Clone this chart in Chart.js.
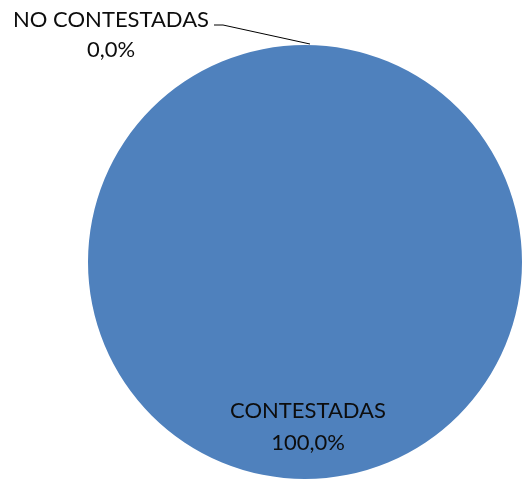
<!DOCTYPE html>
<html>
<head>
<meta charset="utf-8">
<script src="https://cdn.jsdelivr.net/npm/chart.js@4"></script>
<style>
html,body{margin:0;padding:0;background:#fff;}
#wrap{width:522px;height:481px;position:relative;}
</style>
</head>
<body>
<div id="wrap"><canvas id="c" width="522" height="481"></canvas></div>
<script>
const categories = ['CONTESTADAS', 'NO CONTESTADAS'];
const values = [100, 0];
const percentLabels = ['100,0%', '0,0%'];
const colors = ['#4F81BD', '#C0504D'];

const FONT = '22px Lato, "Liberation Sans", Arial, sans-serif';

const labelPlugin = {
  id: 'pieLabels',
  afterDatasetsDraw(chart) {
    const ctx = chart.ctx;
    const meta = chart.getDatasetMeta(0);
    ctx.save();
    ctx.font = FONT;
    ctx.fillStyle = '#0d0d0d';
    ctx.textBaseline = 'middle';
    ctx.textAlign = 'center';
    meta.data.forEach((arc, i) => {
      const p = arc.getProps(['x','y','startAngle','endAngle','outerRadius'], true);
      const mid = (p.startAngle + p.endAngle) / 2;
      if (values[i] > 0) {
        const r = p.outerRadius * 0.76;
        const lx = p.x + Math.cos(mid) * r + 3;
        const ly = p.y + Math.sin(mid) * r;
        ctx.fillText(categories[i], lx, ly - 16);
        ctx.fillText(percentLabels[i], lx, ly + 16);
      } else {
        const ax = p.x + Math.cos(mid) * p.outerRadius;
        const ay = p.y + Math.sin(mid) * p.outerRadius;
        const ex = ax - 82, ey = ay - 20;
        ctx.strokeStyle = '#000';
        ctx.lineWidth = 1;
        ctx.beginPath();
        ctx.moveTo(ax + 5, ay - 1);
        ctx.lineTo(ex, ey);
        ctx.lineTo(ex - 9, ey);
        ctx.stroke();
        const tw = ctx.measureText(categories[i]).width;
        const cx = ex - 14 - tw / 2;
        ctx.fillText(categories[i], cx, ey - 5);
        ctx.fillText(percentLabels[i], cx, ey + 25);
      }
    });
    ctx.restore();
  }
};

new Chart(document.getElementById('c'), {
  type: 'pie',
  data: {
    labels: categories,
    datasets: [{
      data: values,
      backgroundColor: colors,
      borderWidth: 0
    }]
  },
  options: {
    responsive: false,
    animation: false,
    layout: { padding: { left: 88, right: 0, top: 43, bottom: 0 } },
    plugins: {
      legend: { display: false },
      tooltip: { enabled: false }
    }
  },
  plugins: [labelPlugin]
});
</script>
</body>
</html>
